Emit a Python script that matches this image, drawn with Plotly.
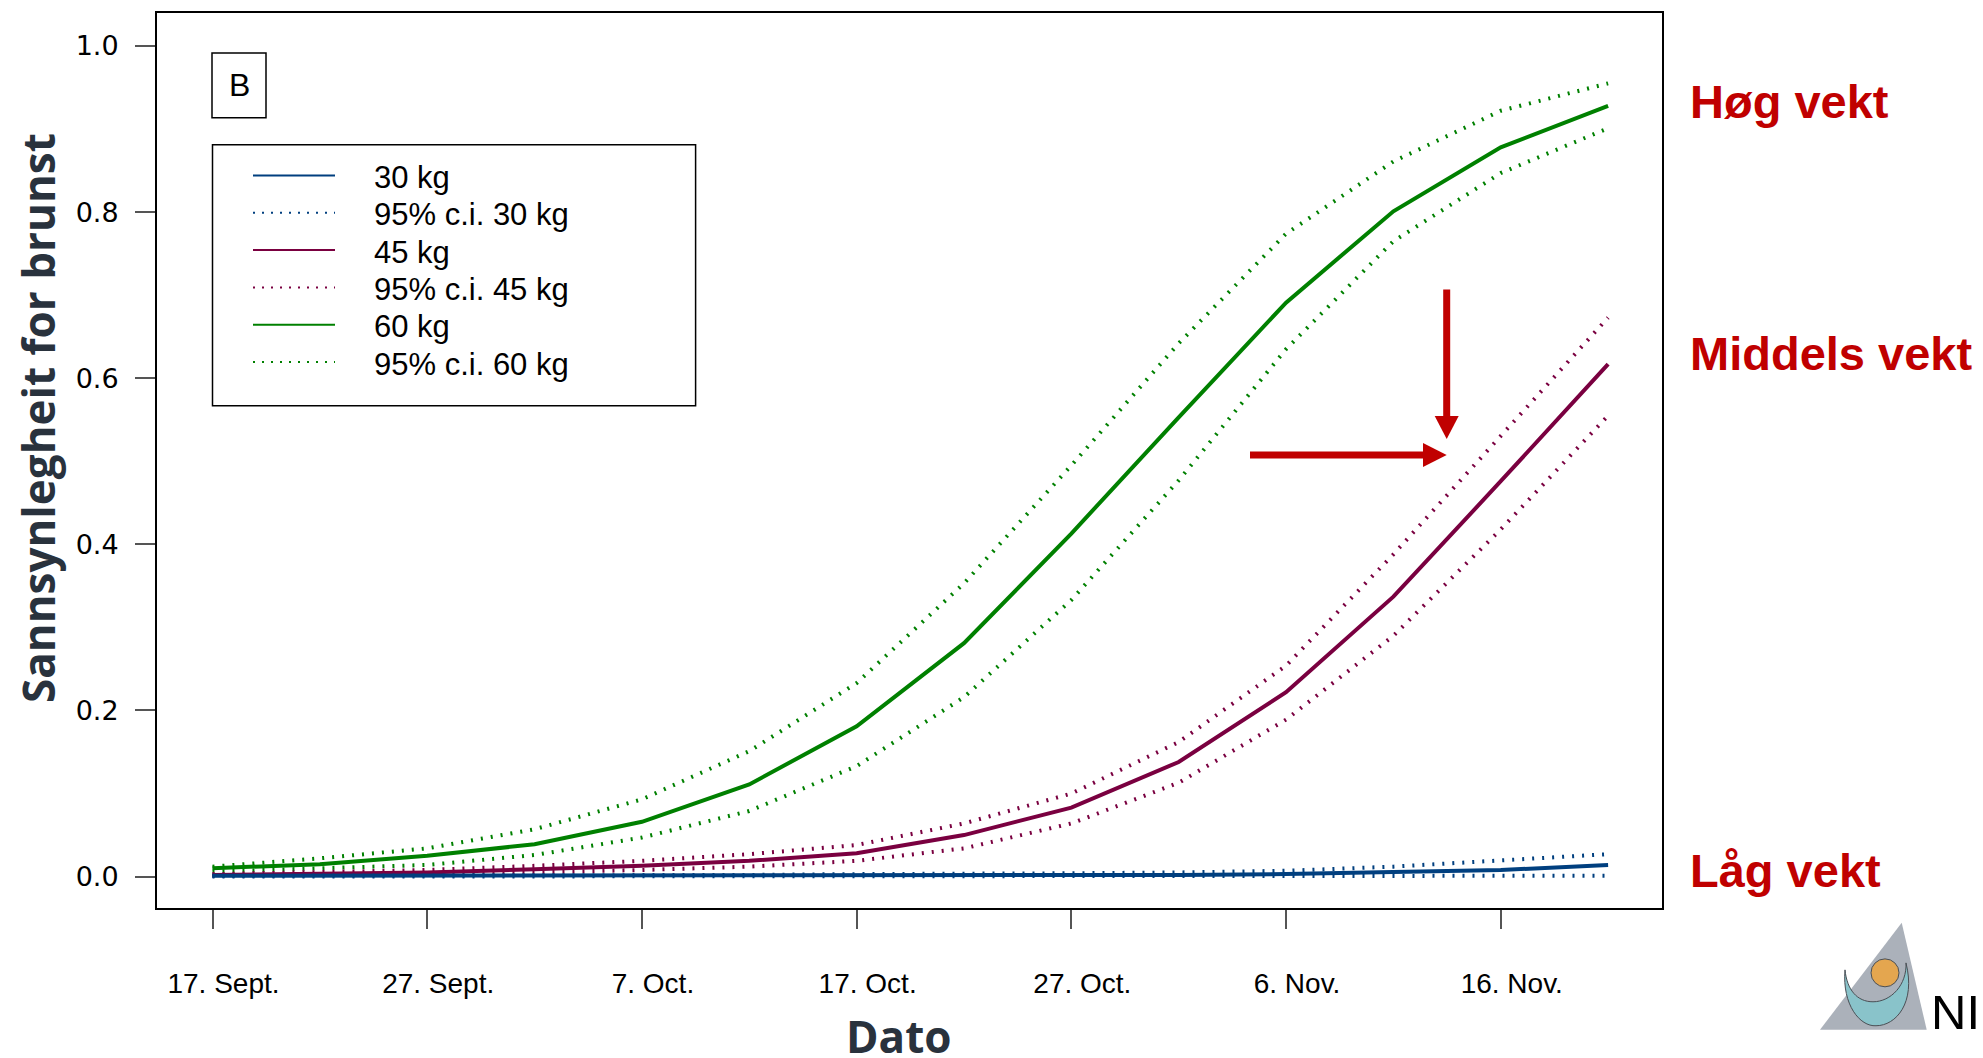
import datetime as dt
import plotly.graph_objects as go

# ---------------- data ----------------
dates = ["2010-09-17", "2010-09-22", "2010-09-27", "2010-10-02", "2010-10-07",
         "2010-10-12", "2010-10-17", "2010-10-22", "2010-10-27", "2010-11-01",
         "2010-11-06", "2010-11-11", "2010-11-16", "2010-11-21"]

p30    = [0.001, 0.001, 0.001, 0.001, 0.001, 0.001, 0.001, 0.001, 0.002, 0.002, 0.003, 0.005, 0.008, 0.014]
p30_hi = [0.001, 0.001, 0.002, 0.002, 0.002, 0.002, 0.003, 0.003, 0.004, 0.005, 0.007, 0.012, 0.019, 0.027]
p30_lo = [0.000, 0.000, 0.000, 0.000, 0.000, 0.000, 0.000, 0.000, 0.000, 0.000, 0.000, 0.000, 0.000, 0.001]

p45    = [0.002, 0.003, 0.005, 0.009, 0.013, 0.019, 0.028, 0.050, 0.083, 0.138, 0.222, 0.337, 0.476, 0.617]
p45_hi = [0.003, 0.005, 0.008, 0.013, 0.019, 0.027, 0.038, 0.064, 0.100, 0.162, 0.254, 0.388, 0.530, 0.673]
p45_lo = [0.001, 0.002, 0.003, 0.005, 0.008, 0.012, 0.019, 0.034, 0.064, 0.113, 0.189, 0.290, 0.418, 0.555]

p60    = [0.010, 0.015, 0.025, 0.039, 0.066, 0.111, 0.181, 0.281, 0.413, 0.553, 0.691, 0.801, 0.878, 0.928]
p60_hi = [0.012, 0.022, 0.034, 0.057, 0.093, 0.151, 0.233, 0.353, 0.495, 0.642, 0.774, 0.861, 0.922, 0.955]
p60_lo = [0.006, 0.010, 0.014, 0.026, 0.047, 0.079, 0.133, 0.216, 0.333, 0.477, 0.635, 0.765, 0.847, 0.901]

x_tick_dates = ["2010-09-17", "2010-09-27", "2010-10-07", "2010-10-17",
                "2010-10-27", "2010-11-06", "2010-11-16"]
x_tick_labels = ["17. Sept.", "27. Sept.", "7. Oct.", "17. Oct.", "27. Oct.", "6. Nov.", "16. Nov."]
y_tick_vals = [0.0, 0.2, 0.4, 0.6, 0.8, 1.0]
y_tick_labels = ["0.0", "0.2", "0.4", "0.6", "0.8", "1.0"]

legend_labels = ["30 kg", "95% c.i. 30 kg", "45 kg", "95% c.i. 45 kg", "60 kg", "95% c.i. 60 kg"]
group_labels = ["Høg vekt", "Middels vekt", "Låg vekt"]

# ---------------- styles ----------------
BLUE = "rgb(0,63,127)"
MAROON = "rgb(122,0,64)"
GREEN = "rgb(0,128,0)"
RED = "#c00000"
TITLE_C = "#29323d"
DOT = "2px,8px"

W, H = 1983, 1058
ML, MR, MT, MB = 157, 321, 11, 150
PW = W - ML - MR
PH = H - MT - MB


def fx(x):
    return (x - ML) / PW


def fy(y):
    return (H - MB - y) / PH


fig = go.Figure()

series = [
    ("60 kg", p60, p60_lo, p60_hi, GREEN),
    ("45 kg", p45, p45_lo, p45_hi, MAROON),
    ("30 kg", p30, p30_lo, p30_hi, BLUE),
]
for name, mid, lo, hi, col in series:
    for arr, nm in ((hi, "95% c.i. " + name), (lo, "95% c.i. " + name)):
        fig.add_trace(go.Scatter(x=dates, y=arr, mode="lines", name=nm, showlegend=False,
                                 line=dict(color=col, width=4, dash=DOT)))
    fig.add_trace(go.Scatter(x=dates, y=mid, mode="lines", name=name, showlegend=False,
                             line=dict(color=col, width=4)))

# axis ranges
d0 = dt.datetime(2010, 9, 17)
xr = [(d0 + dt.timedelta(days=-2.585)).strftime("%Y-%m-%d %H:%M:%S"),
      (d0 + dt.timedelta(days=67.51)).strftime("%Y-%m-%d %H:%M:%S")]

shapes = []
annotations = []

# panel label box "B"
shapes.append(dict(type="rect", xref="paper", yref="paper", x0=fx(212), x1=fx(266),
                   y0=fy(116), y1=fy(51), line=dict(color="black", width=1.5)))
annotations.append(dict(text="B", xref="paper", yref="paper", x=fx(239), y=fy(83.5),
                        showarrow=False, xanchor="center", yanchor="middle",
                        font=dict(family="Liberation Sans, Arial", size=32, color="black")))

# manual legend
shapes.append(dict(type="rect", xref="paper", yref="paper", x0=fx(212.5), x1=fx(695.6),
                   y0=fy(404.7), y1=fy(143), line=dict(color="black", width=1.5)))
leg_cols = [BLUE, BLUE, MAROON, MAROON, GREEN, GREEN]
leg_dash = ["solid", "2px,7px", "solid", "2px,7px", "solid", "2px,7px"]
row_y = [175.8, 213.2, 250.6, 288.0, 325.4, 362.8]
for lab, c, d, yy in zip(legend_labels, leg_cols, leg_dash, row_y):
    shapes.append(dict(type="line", xref="paper", yref="paper", x0=fx(253), x1=fx(335),
                       y0=fy(yy - 2), y1=fy(yy - 2), line=dict(color=c, width=2, dash=d)))
    annotations.append(dict(text=lab, xref="paper", yref="paper", x=fx(372), y=fy(yy),
                            showarrow=False, xanchor="left", yanchor="middle",
                            font=dict(family="Liberation Sans, Arial", size=31, color="black")))

# red group labels
for lab, yy in zip(group_labels, [100, 352, 870]):
    annotations.append(dict(text=lab, xref="paper", yref="paper", x=fx(1688), y=fy(yy),
                            showarrow=False, xanchor="left", yanchor="middle",
                            font=dict(family="Liberation Sans, Arial", size=47, color=RED, weight=700)))

# red arrows
shapes.append(dict(type="line", xref="paper", yref="paper", x0=fx(1446.7), x1=fx(1446.7),
                   y0=fy(288), y1=fy(418), line=dict(color=RED, width=7)))
shapes.append(dict(type="path", xref="paper", yref="paper",
                   path=f"M{fx(1434.7)},{fy(415)} L{fx(1458.7)},{fy(415)} L{fx(1446.7)},{fy(438)} Z",
                   fillcolor=RED, line=dict(color=RED, width=0)))
shapes.append(dict(type="line", xref="paper", yref="paper", x0=fx(1250), x1=fx(1426),
                   y0=fy(454), y1=fy(454), line=dict(color=RED, width=7)))
shapes.append(dict(type="path", xref="paper", yref="paper",
                   path=f"M{fx(1423)},{fy(442)} L{fx(1423)},{fy(466)} L{fx(1446.7)},{fy(454)} Z",
                   fillcolor=RED, line=dict(color=RED, width=0)))

# axis titles
annotations.append(dict(text="Sannsynlegheit for brunst", xref="paper", yref="paper",
                        x=fx(38), y=fy(417), textangle=-90, showarrow=False,
                        xanchor="center", yanchor="middle",
                        font=dict(family="Open Sans", size=44, color=TITLE_C, weight=700)))
annotations.append(dict(text="Dato", xref="paper", yref="paper", x=fx(899), y=fy(1036),
                        showarrow=False, xanchor="center", yanchor="middle",
                        font=dict(family="Open Sans", size=44, color=TITLE_C, weight=700)))

# logo (NINA)
shapes.append(dict(type="path", xref="paper", yref="paper",
                   path=f"M{fx(1820)},{fy(1030)} L{fx(1901.7)},{fy(922.7)} L{fx(1926.7)},{fy(1030)} Z",
                   fillcolor="#abb1ba", line=dict(width=0)))
cres = (f"M{fx(1845)},{fy(970)} "
        f"C{fx(1842)},{fy(1005)} {fx(1860)},{fy(1027)} {fx(1876)},{fy(1026)} "
        f"C{fx(1896)},{fy(1026)} {fx(1916)},{fy(1003)} {fx(1906)},{fy(963)} "
        f"C{fx(1907)},{fy(985)} {fx(1891)},{fy(1002)} {fx(1873)},{fy(1002)} "
        f"C{fx(1857)},{fy(1002)} {fx(1847)},{fy(990)} {fx(1845)},{fy(970)} Z")
shapes.append(dict(type="path", xref="paper", yref="paper", path=cres,
                   fillcolor="#89c3ca", line=dict(color="#4a4f55", width=1)))
shapes.append(dict(type="circle", xref="paper", yref="paper",
                   x0=fx(1871), x1=fx(1899), y0=fy(987), y1=fy(959),
                   fillcolor="#e4a64f", line=dict(color="#4a4f55", width=1)))
annotations.append(dict(text="NINA", xref="paper", yref="paper", x=fx(1929), y=fy(1012.5),
                        showarrow=False, xanchor="left", yanchor="middle",
                        font=dict(family="Liberation Sans Narrow, Liberation Sans, Arial",
                                  size=49, color="black")))

fig.update_layout(
    width=W, height=H, autosize=False,
    margin=dict(l=ML, r=MR, t=MT, b=MB, pad=0),
    paper_bgcolor="white", plot_bgcolor="white",
    showlegend=False,
    shapes=shapes, annotations=annotations,
    xaxis=dict(type="date", range=xr, tickmode="array", tickvals=x_tick_dates,
               ticktext=x_tick_labels, ticks="outside", ticklen=19, tickwidth=1.5,
               tickcolor="#555555", showline=True, linecolor="black", linewidth=2,
               mirror=True, showgrid=False, zeroline=False,
               tickfont=dict(family="Liberation Sans, Arial", size=28, color="black"),
               ticklabelstandoff=30, ticklabelshift=11),
    yaxis=dict(range=[-0.0378, 1.0397], tickmode="array", tickvals=y_tick_vals,
               ticktext=y_tick_labels, ticks="outside", ticklen=20, tickwidth=1.5,
               tickcolor="#555555", showline=True, linecolor="black", linewidth=2,
               mirror=True, showgrid=False, zeroline=False,
               tickfont=dict(family="DejaVu Sans", size=27, color="black"),
               ticklabelstandoff=11),
)

fig.write_html("out.html", config={"displayModeBar": False},
               post_script="document.body.style.margin='0';document.body.style.overflow='hidden';")
